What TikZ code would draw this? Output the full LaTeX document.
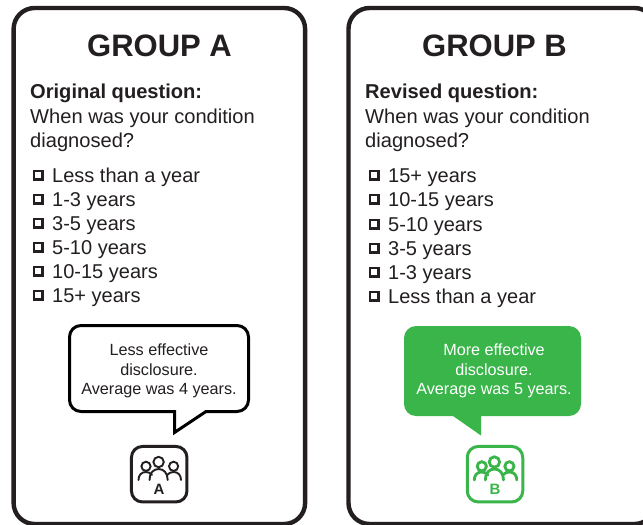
\documentclass[tikz,border=0pt]{standalone}
\usepackage{fontspec}
\setmainfont{Liberation Sans}
\definecolor{ink}{HTML}{231F20}
\definecolor{grn}{HTML}{39B54A}
\tikzset{
  x=1pt,y=-1pt,
  panel/.style={draw=ink,line width=4.4pt,rounded corners=21pt,fill=white,outer sep=0pt,anchor=north west,minimum height=516pt},
  title/.style={anchor=base,font=\fontsize{31}{31}\selectfont\bfseries,text=ink,inner sep=0},
  txt/.style={anchor=base west,font=\fontsize{20.1}{24}\selectfont,text=ink,inner sep=0},
  btxt/.style={txt,font=\fontsize{20.1}{24}\selectfont\bfseries},
  opt/.style={anchor=base west,font=\fontsize{20}{24}\selectfont,text=ink,inner sep=0},
  chk/.style={draw=ink,line width=2.5pt,minimum size=8.5pt,inner sep=0,outer sep=0pt,fill=white},
  say/.style={anchor=base,font=\fontsize{16.2}{19}\selectfont,inner sep=0},
  iconbox/.style={line width=3pt,rounded corners=11pt,fill=white,outer sep=0pt,minimum size=55.5pt,inner sep=0},
  iconletter/.style={anchor=base,font=\fontsize{15}{15}\selectfont\bfseries,inner sep=0}
}
\newcommand{\people}[3]{%
  \begin{scope}[xshift=#1pt,draw=#2,line width=#3,line cap=round]
    \draw (158.6,462) circle (5.2);
    \draw (146,466.3) circle (4.6);
    \draw (173.6,466.3) circle (4.6);
    \draw (149.5,480) .. controls (149.5,473) and (153.5,469) .. (158.6,469) .. controls (163.7,469) and (167.7,473) .. (167.7,480);
    \draw (138.5,480) .. controls (138.5,475) and (141.5,472) .. (146,472) .. controls (148.5,472) and (150.5,473) .. (152,475);
    \draw (181,480) .. controls (181,475) and (178,472) .. (173.6,472) .. controls (171,472) and (169,473) .. (167,475);
  \end{scope}}
\begin{document}
\begin{tikzpicture}
\useasboundingbox (0,0) rectangle (643,525);
\clip (0,0) rectangle (643,525);
\fill[white] (0,0) rectangle (643,525);
\node[panel,minimum width=291.5pt] (pa) at (13.6,8) {};
\node[panel,minimum width=307pt] (pb) at (348.5,8) {};
\node[title] (ta) at (159.5,56.5) {GROUP A};
\node[title] (tb) at (494.5,56.5) {GROUP B};

\node[btxt] (qa) at (30,98) {Original question:};
\node[txt] (qa1) at (30,123) {When was your condition};
\node[txt] (qa2) at (30,147) {diagnosed?};
\node[btxt] (qb) at (365,98) {Revised question:};
\node[txt] (qb1) at (365,123) {When was your condition};
\node[txt] (qb2) at (365,147) {diagnosed?};

\foreach \n/\y/\t in {1/181/Less than a year,2/205/1-3 years,3/229/3-5 years,4/253/5-10 years,5/277/10-15 years,6/301/15+ years}{
  \node[chk] (ca\n) at (38.3,\y-6) {};
  \node[opt] (oa\n) at (52,\y+1) {\t};
}
\foreach \n/\y/\t in {1/181/15+ years,2/205/10-15 years,3/230/5-10 years,4/254/3-5 years,5/278/1-3 years,6/302/Less than a year}{
  \node[chk] (cb\n) at (374,\y-6) {};
  \node[opt] (ob\n) at (388,\y+1.5) {\t};
}

\draw[draw=black,line width=3pt,fill=white,line join=miter]
  (81,325.5) -- (237,325.5) arc[start angle=-90,end angle=0,radius=11.5] -- (248.5,400)
  arc[start angle=0,end angle=90,radius=11.5] -- (206,411.5) -- (174.5,432.5) -- (174.5,411.5) -- (81,411.5)
  arc[start angle=90,end angle=180,radius=11.5] -- (69.5,337) arc[start angle=180,end angle=270,radius=11.5] -- cycle;
\node[say,text=ink] (sa1) at (159,355.5) {Less effective};
\node[say,text=ink] (sa2) at (159,375) {disclosure.};
\node[say,text=ink] (sa3) at (159,394.5) {Average was 4 years.};

\fill[grn] (416,326) -- (569,326) arc[start angle=-90,end angle=0,radius=12] -- (581,404)
  arc[start angle=0,end angle=90,radius=12] -- (481,416) -- (481,435.5) -- (453,416) -- (416,416)
  arc[start angle=90,end angle=180,radius=12] -- (404,338) arc[start angle=180,end angle=270,radius=12] -- cycle;
\node[say,text=white] (sb1) at (494,355.5) {More effective};
\node[say,text=white] (sb2) at (494,375) {disclosure.};
\node[say,text=white] (sb3) at (494,394.5) {Average was 5 years.};

\node[iconbox,draw=ink] (ia) at (159.2,474.2) {};
\node[iconbox,draw=grn] (ib) at (495,474.2) {};
\people{0}{ink}{1.9pt}
\people{335.8}{grn}{2.8pt}
\node[iconletter,text=ink] (la) at (159,494) {A};
\node[iconletter,text=grn] (lb) at (495,494) {B};
\end{tikzpicture}
\end{document}
